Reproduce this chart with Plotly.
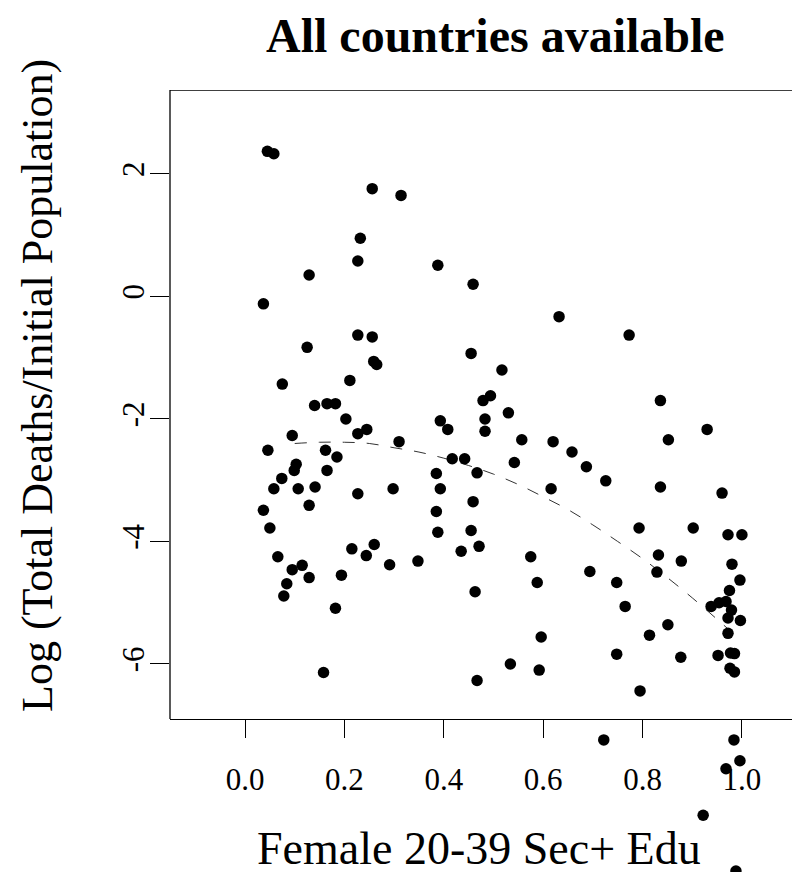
import plotly.graph_objects as go

# Data
edu_share = [
    0.045, 0.058, 0.256, 0.232, 0.227, 0.129, 0.037, 0.227, 0.256, 0.125,
    0.259, 0.265, 0.075, 0.211, 0.140, 0.165, 0.182, 0.314, 0.388, 0.459,
    0.632, 0.773, 0.455, 0.517, 0.494, 0.479, 0.836, 0.203, 0.227, 0.245,
    0.095, 0.046, 0.162, 0.185, 0.103, 0.099, 0.165, 0.074, 0.058, 0.107,
    0.141, 0.227, 0.129, 0.037, 0.050, 0.215, 0.260, 0.244, 0.291, 0.066,
    0.095, 0.115, 0.129, 0.194, 0.084, 0.078, 0.182, 0.158, 0.530, 0.393,
    0.408, 0.483, 0.483, 0.310, 0.557, 0.620, 0.658, 0.687, 0.726, 0.417,
    0.442, 0.542, 0.385, 0.467, 0.298, 0.393, 0.616, 0.385, 0.459, 0.388,
    0.455, 0.471, 0.435, 0.348, 0.575, 0.793, 0.694, 0.588, 0.748, 0.463,
    0.765, 0.596, 0.748, 0.534, 0.592, 0.467, 0.795, 0.930, 0.852, 0.836,
    0.960, 0.902, 0.972, 1.000, 0.832, 0.878, 0.980, 0.829, 0.996, 0.975,
    0.938, 0.954, 0.968, 0.979, 0.972, 0.997, 0.851, 0.814, 0.972, 0.877,
    0.952, 0.977, 0.985, 0.976, 0.985, 0.722, 0.984, 0.996, 0.968, 0.922,
    0.988,
]
log_death_rate = [
    2.37, 2.33, 1.76, 0.95, 0.58, 0.35, -0.12, -0.63, -0.66, -0.83,
    -1.06, -1.11, -1.43, -1.37, -1.78, -1.75, -1.75, 1.65, 0.51, 0.20,
    -0.33, -0.63, -0.93, -1.20, -1.62, -1.70, -1.70, -2.00, -2.24, -2.17,
    -2.27, -2.51, -2.51, -2.62, -2.74, -2.84, -2.84, -2.97, -3.14, -3.14,
    -3.11, -3.22, -3.41, -3.49, -3.78, -4.12, -4.05, -4.23, -4.38, -4.25,
    -4.46, -4.39, -4.59, -4.55, -4.69, -4.89, -5.09, -6.14, -1.90, -2.03,
    -2.17, -2.00, -2.20, -2.37, -2.34, -2.37, -2.54, -2.78, -3.01, -2.65,
    -2.65, -2.71, -2.89, -2.88, -3.14, -3.14, -3.14, -3.51, -3.35, -3.85,
    -3.82, -4.08, -4.16, -4.32, -4.25, -3.78, -4.49, -4.67, -4.67, -4.82,
    -5.06, -5.56, -5.84, -6.00, -6.10, -6.27, -6.44, -2.17, -2.34, -3.11,
    -3.21, -3.78, -3.89, -3.89, -4.22, -4.32, -4.37, -4.50, -4.63, -4.80,
    -5.06, -5.00, -4.98, -5.12, -5.25, -5.29, -5.36, -5.53, -5.50, -5.89,
    -5.86, -5.82, -5.83, -6.07, -6.13, -7.24, -7.24, -7.58, -7.71, -8.47,
    -9.38,
]

# Smoothed (lowess-like) curve
smooth_x = [0.10, 0.15, 0.20, 0.25, 0.30, 0.35, 0.40, 0.45, 0.50, 0.55,
            0.60, 0.65, 0.70, 0.75, 0.80, 0.85, 0.90, 0.95, 1.00]
smooth_y = [-2.40, -2.38, -2.38, -2.40, -2.47, -2.54, -2.64, -2.76, -2.90, -3.07,
            -3.27, -3.48, -3.73, -4.00, -4.28, -4.59, -4.92, -5.27, -5.63]

x_ticks = [0.0, 0.2, 0.4, 0.6, 0.8, 1.0]
x_tick_labels = ["0.0", "0.2", "0.4", "0.6", "0.8", "1.0"]
y_ticks = [-6, -4, -2, 0, 2]
y_tick_labels = ["-6", "-4", "-2", "0", "2"]

title_text = "All countries available"
x_title = "Female 20-39 Sec+ Edu"
y_title = "Log (Total Deaths/Initial Population)"

SERIF = "Liberation Serif, Times New Roman, serif"

# Axis limits of the framed plot region (R-style box)
X_MIN, X_MAX = -0.151, 1.133
BOX_Y_MIN, BOX_Y_MAX = -6.898, 3.371
# The y-axis continues below the box so that low points are drawn outside it
Y_FULL_MIN = -9.527

fig = go.Figure()
fig.add_trace(go.Scatter(
    x=smooth_x, y=smooth_y, mode="lines",
    line=dict(color="#333333", width=1, dash="12px,12px", shape="spline"),
    hoverinfo="skip", showlegend=False,
))
fig.add_trace(go.Scatter(
    x=edu_share, y=log_death_rate, mode="markers",
    marker=dict(color="black", size=11.5, line=dict(width=0)),
    cliponaxis=False, showlegend=False,
))

W, H = 800, 872
L, R, T, B = 162, 0, 82, 0
box_bottom_px = 711
plot_h = H - T - B

fig.update_layout(
    width=W, height=H,
    margin=dict(l=L, r=R, t=T, b=B),
    paper_bgcolor="white", plot_bgcolor="rgba(0,0,0,0)",
    font=dict(family=SERIF, color="black"),
    showlegend=False,
)
fig.update_xaxes(
    range=[X_MIN, X_MAX],
    anchor="free", position=(H - box_bottom_px) / plot_h,
    tickmode="array", tickvals=x_ticks, ticktext=x_tick_labels,
    ticks="outside", ticklen=18, tickwidth=1, tickcolor="black",
    tickfont=dict(family=SERIF, size=31, color="black"),
    ticklabelstandoff=15,
    showline=True, linecolor="black", linewidth=1.3,
    showgrid=False, zeroline=False, layer="below traces",
)
fig.update_yaxes(
    range=[Y_FULL_MIN, BOX_Y_MAX],
    tickmode="array", tickvals=y_ticks, ticktext=y_tick_labels,
    ticks="outside", ticklen=19, tickwidth=1, tickcolor="black",
    tickfont=dict(family=SERIF, size=31, color="black"),
    tickangle=-90, ticklabelstandoff=-6,
    showline=False,
    showgrid=False, zeroline=False, layer="below traces",
)
# Box: top and left edges of the framed region
fig.add_shape(type="line", xref="paper", yref="y", x0=0, x1=1,
              y0=BOX_Y_MAX, y1=BOX_Y_MAX, layer="below",
              line=dict(color="black", width=1.3))
fig.add_shape(type="line", xref="paper", yref="y", x0=0, x1=0,
              y0=BOX_Y_MIN, y1=BOX_Y_MAX, layer="below",
              line=dict(color="black", width=1.3))

fig.add_annotation(
    text="<b>" + title_text + "</b>", xref="paper", yref="paper",
    x=(487 - L) / (W - L - R), y=1 + (T - 27) / plot_h,
    xanchor="center", yanchor="middle", showarrow=False,
    font=dict(family=SERIF, size=48, color="black"),
)
fig.add_annotation(
    text=x_title, xref="paper", yref="paper",
    x=(471 - L) / (W - L - R), y=(H - 840) / plot_h,
    xanchor="center", yanchor="middle", showarrow=False,
    height=50, valign="middle", borderpad=0,
    font=dict(family=SERIF, size=46, color="black"),
)
fig.add_annotation(
    text=y_title, xref="paper", yref="paper", textangle=-90,
    x=-(L - 29) / (W - L - R), y=(H - 378) / plot_h,
    xanchor="center", yanchor="middle", showarrow=False,
    font=dict(family=SERIF, size=44, color="black"),
)

fig.write_html("out.html")
